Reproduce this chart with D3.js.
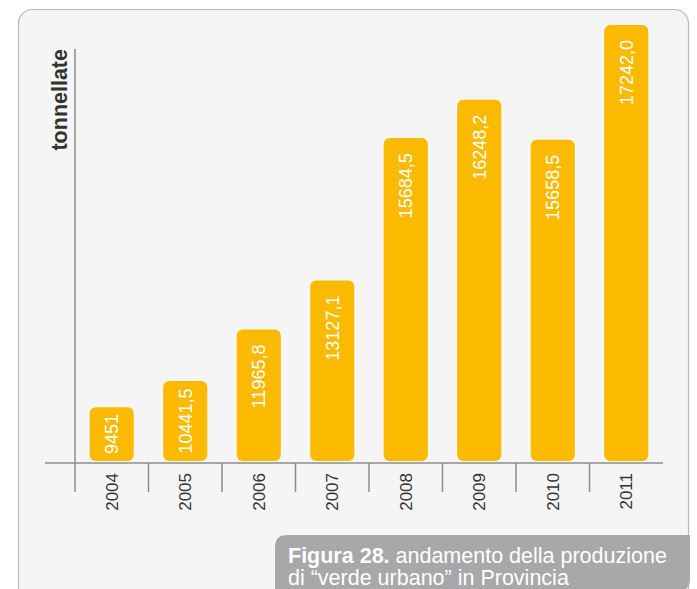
<!DOCTYPE html>
<html>
<head>
<meta charset="utf-8">
<script src="https://cdn.jsdelivr.net/npm/d3@7"></script>
<style>
  html, body { margin: 0; padding: 0; background: #ffffff; }
  svg { display: block; font-family: "Liberation Sans", Arial, sans-serif; }
</style>
</head>
<body>
<svg id="chart" width="697" height="589"></svg>
<script>
// Produzione di "verde urbano" (tonnellate), 2004-2011
const years = ["2004", "2005", "2006", "2007", "2008", "2009", "2010", "2011"];
const tonnes = [9451, 10441.5, 11965.8, 13127.1, 15684.5, 16248.2, 15658.5, 17242.0];
const valueLabels = ["9451", "10441,5", "11965,8", "13127,1", "15684,5", "16248,2", "15658,5", "17242,0"];
const yAxisTitle = "tonnellate";
const captionBold = "Figura 28.";
const captionLine1 = " andamento della produzione";
const captionLine2 = "di \u201cverde urbano\u201d in Provincia";

const svg = d3.select("#chart");

// outer panel
svg.append("rect")
  .attr("x", 18.5).attr("y", 9.5)
  .attr("width", 670).attr("height", 640)
  .attr("rx", 14)
  .attr("fill", "#f5f5f5")
  .attr("stroke", "#b8b8b8")
  .attr("stroke-width", 1.2);

const plot = { left: 75, right: 663, base: 463, top: 25 };

const x = d3.scaleBand()
  .domain(years)
  .range([plot.left, plot.right])
  .paddingInner(0.4)
  .paddingOuter(0.2);

// cubic scale keeps the low years readable while the top years spread out
const y = d3.scalePow()
  .exponent(3)
  .domain([6220, 17242])
  .range([plot.base - 2, plot.top]);

const axisColor = "#8c8c8c";

// bars
const data = years.map((yr, i) => ({ year: yr, value: tonnes[i], label: valueLabels[i] }));

svg.append("g").selectAll("rect")
  .data(data)
  .join("rect")
  .attr("x", d => x(d.year))
  .attr("width", x.bandwidth())
  .attr("y", d => y(d.value))
  .attr("height", d => y.range()[0] - y(d.value))
  .attr("rx", 6)
  .attr("fill", "#fbba00");

// value labels inside bars
const vl = svg.append("g").selectAll("text")
  .data(data)
  .join("text")
  .attr("fill", "#ffffff")
  .attr("font-size", 18)
  .attr("text-anchor", "end")
  .attr("dy", "0.35em")
  .text(d => d.label);

vl.each(function(d) {
  const len = this.getComputedTextLength();
  const h = y.range()[0] - y(d.value);
  const off = Math.min(15, (h - len) / 2);
  const cx = x(d.year) + x.bandwidth() / 2;
  d3.select(this).attr("transform", `translate(${cx},${y(d.value) + off}) rotate(-90)`);
});

// baseline
svg.append("line")
  .attr("x1", 45).attr("x2", plot.right)
  .attr("y1", plot.base).attr("y2", plot.base)
  .attr("stroke", axisColor).attr("stroke-width", 1.5);

// vertical axis line
svg.append("line")
  .attr("x1", plot.left).attr("x2", plot.left)
  .attr("y1", 49).attr("y2", 492)
  .attr("stroke", axisColor).attr("stroke-width", 1.5);

// band separators
const step = x.step();
svg.append("g").selectAll("line")
  .data(years.slice(1))
  .join("line")
  .attr("x1", d => x(d) - step * 0.2)
  .attr("x2", d => x(d) - step * 0.2)
  .attr("y1", plot.base).attr("y2", 492)
  .attr("stroke", axisColor).attr("stroke-width", 1.5);

// year labels
svg.append("g").selectAll("text")
  .data(years)
  .join("text")
  .attr("transform", d => `translate(${x(d) + x.bandwidth() / 2},${plot.base + 10}) rotate(-90)`)
  .attr("text-anchor", "end")
  .attr("dy", "0.35em")
  .attr("font-size", 17)
  .attr("fill", "#333333")
  .text(d => d);

// axis title
svg.append("text")
  .attr("transform", "translate(66.5,49) rotate(-90)")
  .attr("text-anchor", "end")
  .attr("font-size", 21.5)
  .attr("font-weight", "bold")
  .attr("fill", "#333333")
  .text(yAxisTitle);

// caption box
const cx0 = 275, cx1 = 690, cy0 = 535, cy1 = 591, r = 12;
svg.append("path")
  .attr("d", `M${cx0},${cy1} L${cx0},${cy0 + r} Q${cx0},${cy0} ${cx0 + r},${cy0} L${cx1},${cy0} L${cx1},${cy1 - r} Q${cx1},${cy1} ${cx1 - r},${cy1} Z`)
  .attr("fill", "#a8a8aa");

const cap = svg.append("text")
  .attr("x", 288).attr("y", 563)
  .attr("font-size", 21.5)
  .attr("fill", "#ffffff");
cap.append("tspan").attr("font-weight", "bold").text(captionBold);
cap.append("tspan").text(captionLine1);

svg.append("text")
  .attr("x", 288).attr("y", 585)
  .attr("font-size", 21.5)
  .attr("fill", "#ffffff")
  .text(captionLine2);
</script>
</body>
</html>
